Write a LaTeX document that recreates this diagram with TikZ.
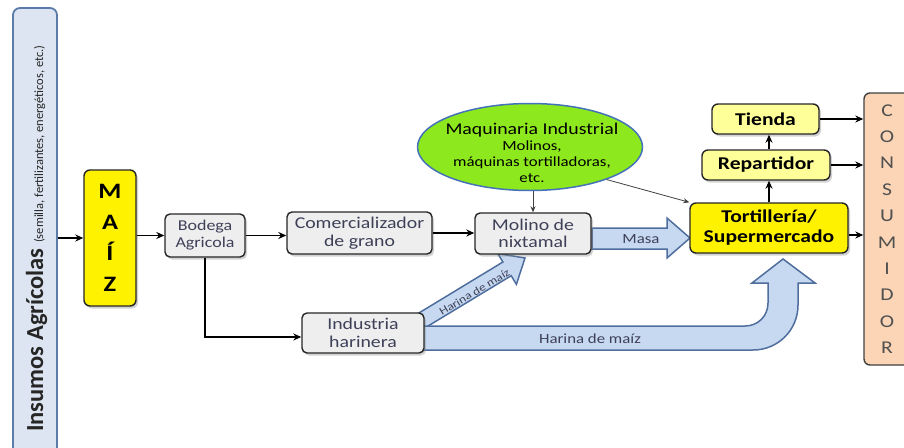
\documentclass[tikz,border=0pt]{standalone}
\usepackage{fontspec}
\setmainfont{Carlito}[FakeStretch=1.2]
\newfontfamily\plainfont{Carlito}
\usetikzlibrary{arrows.meta,shapes.geometric,shadows,calc}
\definecolor{insfill}{HTML}{DCE5F1}
\definecolor{insdraw}{HTML}{5B7BA8}
\definecolor{boxgray}{HTML}{EEEEEE}
\definecolor{boxtext}{HTML}{3E4058}
\definecolor{maqgreen}{HTML}{8EE81E}
\definecolor{maqdraw}{HTML}{4472B8}
\definecolor{blkfill}{HTML}{C6D9F0}
\definecolor{blkdraw}{HTML}{4F6E9E}
\definecolor{lightyel}{HTML}{FFFF99}
\definecolor{consfill}{HTML}{FBD5B5}
\definecolor{constext}{HTML}{505050}
\tikzset{
  shad/.style={drop shadow={opacity=0.35,shadow xshift=2pt,shadow yshift=-2.5pt}},
  graybox/.style={shad,draw=black!85,line width=1.4pt,fill=boxgray,rounded corners=5pt,
    align=center,inner sep=0pt,text=boxtext,font=\fontsize{16.5}{17.5}\selectfont},
  yelbox/.style={shad,draw=black!85,line width=1.4pt,fill=yellow,rounded corners=6pt,
    align=center,inner sep=0pt,font=\bfseries\fontsize{18}{20}\selectfont},
  lyelbox/.style={yelbox,fill=lightyel},
  arr/.style={draw=black,line width=1.6pt,-{Stealth[length=8pt,width=7pt]}},
  thinarr/.style={draw=black!75,line width=0.8pt,-{Stealth[length=6pt,width=5pt]}},
  blk/.style={draw=blkdraw,line width=1.5pt,fill=blkfill,line join=miter},
  blklabel/.style={text=boxtext,font=\fontsize{14}{15}\selectfont,inner sep=0pt}
}
\begin{document}
\begin{tikzpicture}[x=1pt,y=-1pt]
\useasboundingbox (0,0) rectangle (904,447);
\fill[white] (0,0) rectangle (904,447);

% block arrows (behind boxes)
\draw[blk] (592,228) -- (667,228) -- (667,218) -- (690,238) -- (667,258) -- (667,249) -- (592,249) -- cycle;
\node[blklabel] (masa) at (641,239) {Masa};

\draw[blk] (416.9,314.2) -- (502.9,262.0) -- (497.7,253.5) -- (525,258) -- (516.4,284.3) -- (511.2,275.7) -- (425.1,327.8) -- cycle;
\node[blklabel,rotate=31.2,font=\fontsize{11}{12}\selectfont] (harinadiag) at (474.5,292) {Harina de maíz};

\draw[blk] (410,326) -- (745,326) .. controls (758,326) and (768,316) .. (768,303)
  -- (768,283) -- (752,283) -- (783,259) -- (815,283) -- (798,283) -- (798,305)
  .. controls (798,330) and (778,350) .. (753,350) -- (410,350) -- cycle;
\node[blklabel] (harinah) at (590,339) {Harina de maíz};

% Insumos
\node[draw=insdraw,line width=1.8pt,fill=insfill,rounded corners=7pt,minimum width=44pt,minimum height=450pt,inner sep=0pt] (insumos) at (35,233) {};
\node[rotate=90,anchor=base,inner sep=0pt,text=black!85] (instext) at (43,238.5)
  {\plainfont\fontsize{24.5}{26}\selectfont\bfseries Insumos Agrícolas\ \mdseries\fontsize{12.5}{13}\selectfont(semilla, fertilizantes, energéticos, etc.)};

% MAIZ
\node[yelbox,minimum width=52pt,minimum height=136pt,font=\bfseries\fontsize{22}{31}\selectfont] (maiz) at (110,238) {M\\A\\Í\\Z};

% gray boxes
\node[graybox,minimum width=80pt,minimum height=43pt,font=\fontsize{15}{17}\selectfont] (bodega) at (205,235.5) {Bodega\\Agricola};
\node[graybox,minimum width=145pt,minimum height=42pt] (comerc) at (359.5,233) {Comercializador\\de grano};
\node[graybox,minimum width=116pt,minimum height=41pt] (molino) at (533,233.5) {Molino de\\nixtamal};
\node[graybox,minimum width=122pt,minimum height=40pt] (industria) at (363,333) {Industria\\harinera};

% ellipse
\node[ellipse,draw=maqdraw,line width=1.5pt,fill=maqgreen,minimum width=225pt,minimum height=87pt,inner sep=0pt] (maq) at (530,147) {};
\node[align=center,inner sep=0pt,text=black,font=\fontsize{14}{16}\selectfont] (maqtext) at (532,153)
  {{\fontsize{16.5}{17}\selectfont Maquinaria Industrial}\\
   Molinos,\\
   máquinas tortilladoras,\\
   etc.};

% right side
\node[yelbox,minimum width=158pt,minimum height=50pt] (tort) at (769,228) {Tortillería/\\Supermercado};
\node[lyelbox,minimum width=128pt,minimum height=30pt] (rep) at (766,165) {Repartidor};
\node[lyelbox,minimum width=107pt,minimum height=30pt] (tienda) at (765.5,119) {Tienda};
\node[draw=black!75,line width=1.4pt,fill=consfill,rounded corners=6pt,minimum width=46pt,minimum height=272pt,inner sep=0pt,
  align=center,text=constext,font=\fontsize{18}{26.4}\selectfont] (cons) at (887,229)
  {C\\O\\N\\S\\U\\M\\I\\D\\O\\R};

% connectors
\draw[arr] (insumos.east |- maiz.west) -- (maiz.west);
\draw[arr] (maiz.east |- bodega.west) -- (bodega.west);
\draw[arr] (bodega.east) -- (bodega.east -| comerc.west);
\draw[arr] (comerc.east) -- (comerc.east -| molino.west);
\draw[arr] (bodega.south) |- ([yshift=-4pt]industria.west);
\draw[thinarr] (molino.north |- maq.south) -- (molino.north);
\draw[thinarr] (maq.-23) -- (tort.north west);
\draw[arr] (tort.north) -- (tort.north |- rep.south);
\draw[arr] (tort.north |- rep.north) -- (tort.north |- tienda.south);
\draw[arr] (tienda.east) -- (tienda.east -| cons.west);
\draw[arr] (rep.east) -- (rep.east -| cons.west);
\draw[arr] ([yshift=-7pt]tort.east) -- ([yshift=-7pt]tort.east -| cons.west);
\end{tikzpicture}
\end{document}
